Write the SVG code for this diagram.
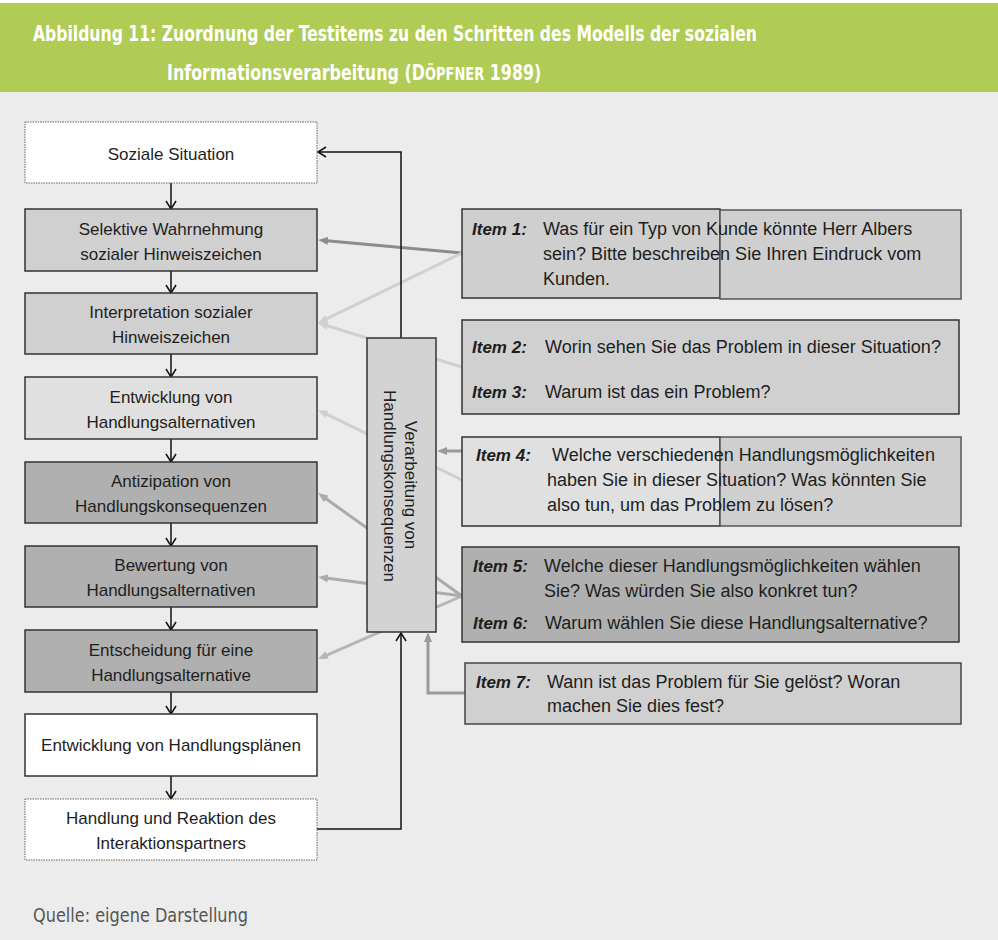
<svg xmlns="http://www.w3.org/2000/svg" width="998" height="940" viewBox="0 0 998 940">
  <defs>
    <style>
      .t { font-family: 'Liberation Sans', Arial, sans-serif; font-size: 17px; fill: #1e1e1e; }
      .c { text-anchor: middle; }
      .it { font-size: 18px; }
      .lb { font-weight: bold; font-style: italic; font-size: 17px; }
      .box { stroke: #333; stroke-width: 1.5; }
      .dot { stroke: #666; stroke-width: 1; stroke-dasharray: 1.5 1; }
      .flow { fill: none; stroke: #111; stroke-width: 1.5; }
      .g { fill: none; stroke-width: 3; }
      .title { font-family: 'DejaVu Sans Condensed', 'Liberation Sans Narrow', sans-serif; font-weight: bold; font-size: 22px; fill: #ffffff; }
      .sc { font-size: 18px; }
    </style>
    <marker id="chev" viewBox="0 0 10 12" refX="9" refY="6" markerWidth="10" markerHeight="12" markerUnits="userSpaceOnUse" orient="auto">
      <path d="M1,1 L9,6 L1,11" fill="none" stroke="#111" stroke-width="1.5"/>
    </marker>
    <marker id="a-dk" viewBox="0 0 10 8" refX="4" refY="4" markerWidth="10" markerHeight="8" markerUnits="userSpaceOnUse" orient="auto">
      <path d="M0,0 L10,4 L0,8 z" fill="#8c8c8c"/>
    </marker>
    <marker id="a-lt" viewBox="0 0 10 8" refX="4" refY="4" markerWidth="10" markerHeight="8" markerUnits="userSpaceOnUse" orient="auto">
      <path d="M0,0 L10,4 L0,8 z" fill="#d0d0d0"/>
    </marker>
    <marker id="a-md" viewBox="0 0 10 8" refX="4" refY="4" markerWidth="10" markerHeight="8" markerUnits="userSpaceOnUse" orient="auto">
      <path d="M0,0 L10,4 L0,8 z" fill="#ababab"/>
    </marker>
    <marker id="a-md2" viewBox="0 0 10 8" refX="4" refY="4" markerWidth="10" markerHeight="8" markerUnits="userSpaceOnUse" orient="auto">
      <path d="M0,0 L10,4 L0,8 z" fill="#b5b5b5"/>
    </marker>
    <marker id="a-gr" viewBox="0 0 10 8" refX="4" refY="4" markerWidth="10" markerHeight="8" markerUnits="userSpaceOnUse" orient="auto">
      <path d="M0,0 L10,4 L0,8 z" fill="#9a9a9a"/>
    </marker>
  </defs>

  <!-- page background and title band -->
  <rect x="0" y="0" width="998" height="940" fill="#ececec"/>
  <rect x="0" y="0" width="998" height="3" fill="#ffffff"/>
  <rect x="0" y="3" width="998" height="89" fill="#b0cc55"/>
  <text class="title" x="33" y="41" textLength="724" lengthAdjust="spacingAndGlyphs">Abbildung 11: Zuordnung der Testitems zu den Schritten des Modells der sozialen</text>
  <!-- second title line, horizontally condensed; author name in small caps -->
  <text class="title" transform="translate(167,80) scale(0.804,1)">Informationsverarbeitung (D<tspan class="sc">ÖPFNER</tspan> 1989)</text>

  <!-- item-to-step assignments (drawn beneath the boxes) -->
  <g id="connectors-items">
    <line class="g" x1="462" y1="253" x2="324" y2="240.5" stroke="#8c8c8c" marker-end="url(#a-dk)"/>
    <line class="g" x1="462" y1="253" x2="323.4" y2="320.4" stroke="#d0d0d0" marker-end="url(#a-lt)"/>
    <line class="g" x1="462" y1="367" x2="323.7" y2="324.8" stroke="#d0d0d0" marker-end="url(#a-lt)"/>
    <line class="g" x1="462" y1="480" x2="323.4" y2="412.6" stroke="#cfcfcf" marker-end="url(#a-lt)"/>
    <line class="g" x1="462" y1="596" x2="322.9" y2="496.5" stroke="#ababab" marker-end="url(#a-md)"/>
    <line class="g" x1="462" y1="596" x2="324" y2="577.8" stroke="#ababab" marker-end="url(#a-md)"/>
    <line class="g" x1="462" y1="596" x2="323.5" y2="656.6" stroke="#b5b5b5" marker-end="url(#a-md2)"/>
  </g>

  <!-- process flow -->
  <g id="connectors-flow">
    <line class="flow" x1="171" y1="183" x2="171" y2="209" marker-end="url(#chev)"/>
    <line class="flow" x1="171" y1="271" x2="171" y2="293" marker-end="url(#chev)"/>
    <line class="flow" x1="171" y1="354" x2="171" y2="377" marker-end="url(#chev)"/>
    <line class="flow" x1="171" y1="439" x2="171" y2="462" marker-end="url(#chev)"/>
    <line class="flow" x1="171" y1="523" x2="171" y2="546" marker-end="url(#chev)"/>
    <line class="flow" x1="171" y1="607" x2="171" y2="630" marker-end="url(#chev)"/>
    <line class="flow" x1="171" y1="692" x2="171" y2="714" marker-end="url(#chev)"/>
    <line class="flow" x1="171" y1="776" x2="171" y2="799" marker-end="url(#chev)"/>
    <path class="flow" d="M317,829 H401 V633" marker-end="url(#chev)"/>
    <path class="flow" d="M401,338 V152 H318" marker-end="url(#chev)"/>
  </g>

  <!-- steps of the model -->
  <g id="step-situation">
    <rect class="dot" x="25" y="122" width="292" height="61" fill="#ffffff"/>
    <text class="t c" x="171" y="160">Soziale Situation</text>
  </g>
  <g id="step-wahrnehmung">
    <rect class="box" x="25" y="209" width="292" height="62" fill="#d0d0d0"/>
    <text class="t c" x="171" y="235">Selektive Wahrnehmung</text>
    <text class="t c" x="171" y="260">sozialer Hinweiszeichen</text>
  </g>
  <g id="step-interpretation">
    <rect class="box" x="25" y="293" width="292" height="61" fill="#d0d0d0"/>
    <text class="t c" x="171" y="318">Interpretation sozialer</text>
    <text class="t c" x="171" y="343">Hinweiszeichen</text>
  </g>
  <g id="step-alternativen">
    <rect class="box" x="25" y="377" width="292" height="62" fill="#e0e0e0"/>
    <text class="t c" x="171" y="403">Entwicklung von</text>
    <text class="t c" x="171" y="428">Handlungsalternativen</text>
  </g>
  <g id="step-antizipation">
    <rect class="box" x="25" y="462" width="292" height="61" fill="#b0b0b0"/>
    <text class="t c" x="171" y="487">Antizipation von</text>
    <text class="t c" x="171" y="512">Handlungskonsequenzen</text>
  </g>
  <g id="step-bewertung">
    <rect class="box" x="25" y="546" width="292" height="61" fill="#b0b0b0"/>
    <text class="t c" x="171" y="571">Bewertung von</text>
    <text class="t c" x="171" y="596">Handlungsalternativen</text>
  </g>
  <g id="step-entscheidung">
    <rect class="box" x="25" y="630" width="292" height="62" fill="#b0b0b0"/>
    <text class="t c" x="171" y="656">Entscheidung für eine</text>
    <text class="t c" x="171" y="681">Handlungsalternative</text>
  </g>
  <g id="step-plaene">
    <rect class="box" x="25" y="714" width="292" height="62" fill="#ffffff"/>
    <text class="t c" x="171" y="751">Entwicklung von Handlungsplänen</text>
  </g>
  <g id="step-handlung">
    <rect class="dot" x="25" y="799" width="292" height="61" fill="#ffffff"/>
    <text class="t c" x="171" y="824">Handlung und Reaktion des</text>
    <text class="t c" x="171" y="849">Interaktionspartners</text>
  </g>

  <!-- feedback processing -->
  <g id="step-verarbeitung">
    <rect class="box" x="367" y="338" width="69" height="294" fill="#d3d3d3"/>
    <text class="t c" transform="translate(405,485) rotate(90)">Verarbeitung von</text>
    <text class="t c" transform="translate(384,486) rotate(90)">Handlungskonsequenzen</text>
  </g>

  <!-- arrows into the feedback box -->
  <g id="connectors-feedback">
    <line class="g" x1="462" y1="451" x2="443" y2="451" stroke="#9a9a9a" marker-end="url(#a-gr)"/>
    <path class="g" d="M465,693 H428 V638" stroke="#9a9a9a" marker-end="url(#a-gr)"/>
  </g>

  <!-- test items -->
  <g id="item-1">
    <rect class="box" x="462" y="209" width="258" height="89" fill="#cfcfcf"/>
    <rect x="720" y="210" width="241" height="89" fill="#cfcfcf" stroke="#555" stroke-width="1.5"/>
    <text class="t lb" x="472" y="235">Item 1:</text>
    <text class="t it" x="543" y="235">Was für ein Typ von Kunde könnte Herr Albers</text>
    <text class="t it" x="543" y="260">sein? Bitte beschreiben Sie Ihren Eindruck vom</text>
    <text class="t it" x="543" y="285">Kunden.</text>
  </g>
  <g id="item-2-3">
    <rect class="box" x="462" y="320" width="497" height="94" fill="#d0d0d0"/>
    <text class="t lb" x="472" y="353">Item 2:</text>
    <text class="t it" x="545" y="353">Worin sehen Sie das Problem in dieser Situation?</text>
    <text class="t lb" x="472" y="398">Item 3:</text>
    <text class="t it" x="545" y="398">Warum ist das ein Problem?</text>
  </g>
  <g id="item-4">
    <rect class="box" x="462" y="437" width="258" height="89" fill="#e0e0e0"/>
    <rect x="720" y="437" width="241" height="89" fill="#cfcfcf" stroke="#555" stroke-width="1.5"/>
    <text class="t lb" x="476" y="461">Item 4:</text>
    <text class="t it" x="552" y="461">Welche verschiedenen Handlungsmöglichkeiten</text>
    <text class="t it" x="547" y="486">haben Sie in dieser Situation? Was könnten Sie</text>
    <text class="t it" x="547" y="511">also tun, um das Problem zu lösen?</text>
  </g>
  <g id="item-5-6">
    <rect class="box" x="462" y="547" width="497" height="95" fill="#b0b0b0"/>
    <text class="t lb" x="473" y="572">Item 5:</text>
    <text class="t it" x="544" y="572">Welche dieser Handlungsmöglichkeiten wählen</text>
    <text class="t it" x="544" y="597">Sie? Was würden Sie also konkret tun?</text>
    <text class="t lb" x="473" y="629">Item 6:</text>
    <text class="t it" x="545" y="629">Warum wählen Sie diese Handlungsalternative?</text>
  </g>
  <g id="item-7">
    <rect x="465" y="663" width="496" height="61" fill="#d0d0d0" stroke="#444" stroke-width="1.5"/>
    <text class="t lb" x="476" y="688">Item 7:</text>
    <text class="t it" x="547" y="688">Wann ist das Problem für Sie gelöst? Woran</text>
    <text class="t it" x="547" y="712">machen Sie dies fest?</text>
  </g>

  <!-- source note -->
  <text x="33" y="922" font-family="'DejaVu Sans Condensed', 'Liberation Sans Narrow', sans-serif" font-size="19" fill="#555" textLength="215" lengthAdjust="spacingAndGlyphs">Quelle: eigene Darstellung</text>
</svg>
